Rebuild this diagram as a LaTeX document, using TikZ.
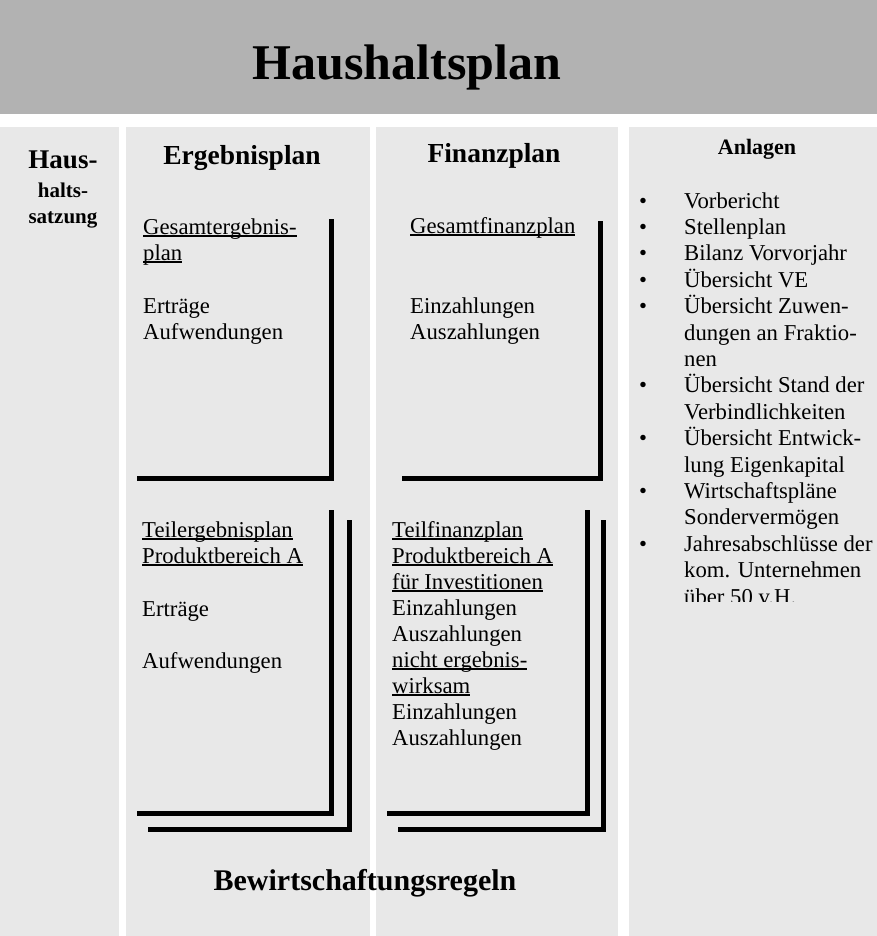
\documentclass[tikz,border=0pt]{standalone}
\usepackage{fontspec}
\setmainfont{Liberation Serif}
\newsavebox{\ulbox}
\newcommand{\ulined}[1]{\leavevmode\sbox{\ulbox}{#1}\rlap{\rule[-2.6pt]{\wd\ulbox}{1.2pt}}\usebox{\ulbox}}

\begin{document}
\begin{tikzpicture}[
    x=1pt, y=-1pt,
    band/.style = {fill=black!30},
    column/.style = {fill=black!9},
    bracket/.style = {line width=5pt},
    maintitle/.style = {
        anchor=base,
        inner sep=0pt,
        font=\bfseries\fontsize{50}{56}\selectfont
    },
    colhead/.style = {
        anchor=base,
        inner sep=0pt,
        font=\bfseries\fontsize{27.5}{30}\selectfont
    },
    plantext/.style = {
        anchor=base west,
        align=left,
        inner sep=0pt,
        font=\fontsize{22.7}{26}\selectfont
    }
]

% Background band and columns
\useasboundingbox (0,0) rectangle (877,936);
\fill[white] (0,0) rectangle (877,936);
\fill[band] (0,0) rectangle (877,114);
\fill[column] (0,127) rectangle (119,936);
\fill[column] (126,127) rectangle (370,936);
\fill[column] (376,127) rectangle (618,936);
\fill[column] (629,127) rectangle (877,936);

% Headings (multi-line nodes sit on their last baseline)
\node[maintitle] (title) at (407,80) {Haushaltsplan};
\node[colhead, font=\bfseries\fontsize{27}{30}\selectfont] (haus) at (63,168) {Haus-};
\node[anchor=base, align=center, inner sep=0pt, font=\bfseries\fontsize{21}{26}\selectfont] (satzung) at (63,223) {halts-\\satzung};
\node[colhead] (ergebnis) at (242,165) {Ergebnisplan};
\node[colhead] (finanz) at (494,163) {Finanzplan};
\node[colhead, font=\bfseries\fontsize{22}{26}\selectfont] (anlagen) at (757,155) {Anlagen};

% Upper plans
\node[plantext] (gesergebnis) at (143,260) {\ulined{Gesamtergebnis-}\\\ulined{plan}};
\node[plantext] (gesposten) at (143,339) {Erträge\\Aufwendungen};
\node[plantext] (gesfinanz) at (410,233) {\ulined{Gesamtfinanzplan}};
\node[plantext] (finposten) at (410,339) {Einzahlungen\\Auszahlungen};

\draw[bracket] (137,478) -| (331,219);
\draw[bracket] (402,478) -| (600,221);

% Lower plans
\node[plantext] (teilergebnis) at (142,563) {\ulined{Teilergebnisplan}\\\ulined{Produktbereich A}};
\node[plantext] (teilposten) at (142,668) {Erträge\\[26pt]Aufwendungen};
\node[plantext] (teilfinanz) at (392,745) {\ulined{Teilfinanzplan}\\\ulined{Produktbereich A}\\\ulined{für Investitionen}\\Einzahlungen\\Auszahlungen\\\ulined{nicht ergebnis-}\\\ulined{wirksam}\\Einzahlungen\\Auszahlungen};

\draw[bracket] (137,813) -| (331,510);
\draw[bracket] (148,829) -| (349,520);
\draw[bracket] (387,813) -| (587,510);
\draw[bracket] (398,829) -| (603,520);

% Anlagen list (last line cut off)
\begin{scope}
\clip (620,120) rectangle (877,601);
\node[plantext, align=none, font=\fontsize{22.7}{26.4}\selectfont] (anlagenliste) at (639,208) {%
\begin{tabular}[t]{@{}l@{\hspace{37pt}}l@{}}
\textbullet & Vorbericht\\
\textbullet & Stellenplan\\
\textbullet & Bilanz Vorvorjahr\\
\textbullet & Übersicht VE\\
\textbullet & Übersicht Zuwen-\\
 & dungen an Fraktio-\\
 & nen\\
\textbullet & Übersicht Stand der\\
 & Verbindlichkeiten\\
\textbullet & Übersicht Entwick-\\
 & lung Eigenkapital\\
\textbullet & Wirtschaftspläne\\
 & Sondervermögen\\
\textbullet & Jahresabschlüsse der\\
 & kom. Unternehmen\\
 & über 50 v.H.
\end{tabular}};
\end{scope}

\node[colhead, font=\bfseries\fontsize{30}{34}\selectfont] (regeln) at (365,890) {Bewirtschaftungsregeln};

\end{tikzpicture}
\end{document}
